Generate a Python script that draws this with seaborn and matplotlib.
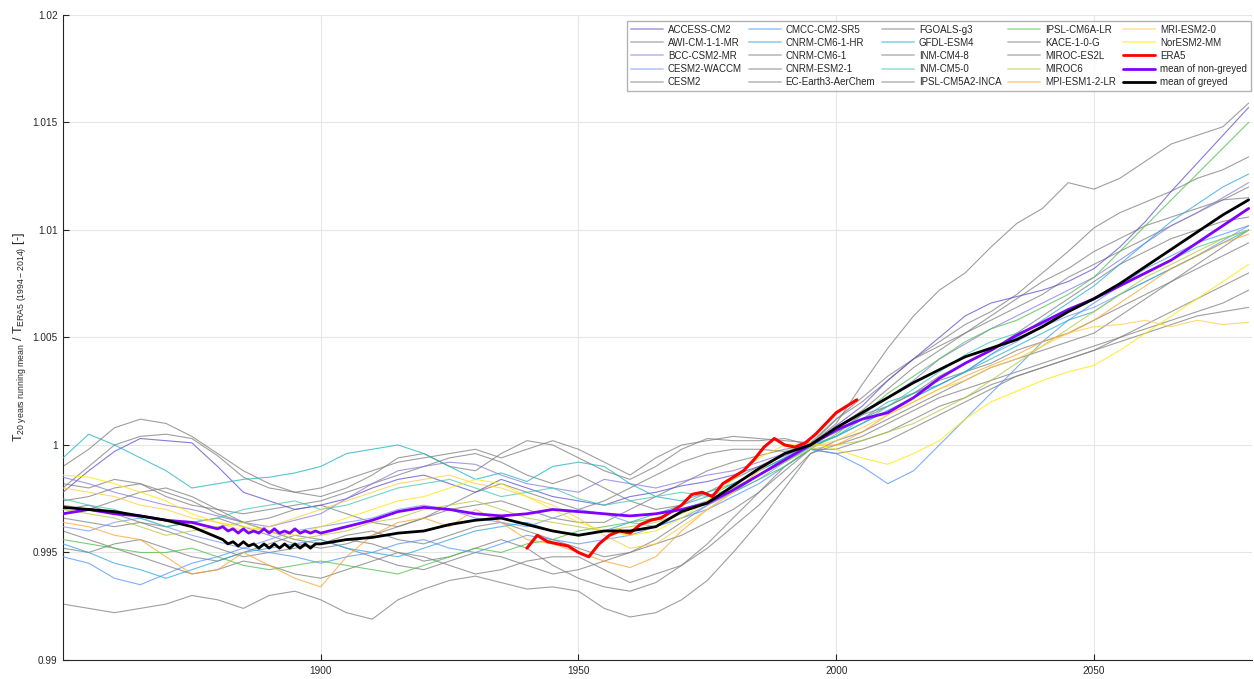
import numpy as np
import pandas as pd
import matplotlib
matplotlib.use("Agg")
import matplotlib.pyplot as plt
from matplotlib.lines import Line2D
import seaborn as sns

# years of the 20-year running means (5-year steps)
years = np.arange(1850, 2081, 5)
era5_years = np.arange(1940, 2005, 2)
# the two ensemble means are read yearly around 1880-1900 (zigzag part)
mean_years = np.concatenate([np.arange(1850, 1880, 5), np.arange(1880, 1900),
                             np.arange(1900, 2081, 5)])

# values in units of 1e-4 around 1.0  (-29 -> 0.9971)
access_cm2 = [-22, -12, -3, 3, 2, 1, -10, -22, -26, -30, -28,
              -25, -20, -16, -14, -18, -22, -16, -20, -24, -26,
              -28, -24, -22, -19, -17, -14, -10, -5, 0, 9,
              18, 30, 40, 50, 60, 66, 69, 72, 76, 82,
              92, 104, 118, 131, 144, 157]
awi_cm = [-10, -2, 8, 12, 10, 4, -4, -12, -18, -22, -24,
          -20, -14, -6, -4, -10, -12, -4, 2, 0, -6,
          -12, -16, -10, -2, 3, 2, 2, 3, 0, 10,
          28, 45, 60, 72, 80, 92, 103, 110, 122, 119,
          124, 132, 140, 144, 148, 159]
bcc_csm2 = [-15, -18, -22, -25, -28, -30, -33, -36, -38, -35, -32,
            -25, -18, -12, -10, -8, -9, -14, -18, -20, -22,
            -16, -18, -20, -17, -14, -12, -8, -4, 1, 6,
            14, 22, 30, 40, 47, 54, 60, 66, 72, 78,
            86, 94, 102, 108, 115, 122]
cesm2_waccm = [-38, -40, -36, -34, -38, -42, -45, -48, -44, -40, -38,
               -36, -34, -30, -28, -30, -34, -36, -38, -34, -30,
               -32, -36, -38, -34, -28, -22, -16, -8, -1, 4,
               10, 16, 22, 28, 34, 42, 48, 55, 60, 64,
               70, 76, 82, 88, 95, 102]
cesm2 = [-28, -30, -26, -22, -20, -24, -30, -36, -40, -44, -46,
         -42, -40, -44, -46, -42, -38, -36, -40, -44, -48,
         -52, -50, -44, -36, -28, -22, -14, -6, 0, 6,
         12, 18, 24, 30, 34, 38, 44, 48, 52, 58,
         64, 70, 76, 82, 88, 94]
cmcc = [-52, -55, -62, -65, -60, -55, -52, -48, -50, -52, -55,
        -52, -50, -46, -44, -48, -50, -46, -42, -44, -46,
        -44, -42, -38, -34, -30, -24, -18, -10, -2, -4,
        -10, -18, -12, 0, 12, 24, 36, 48, 58, 66,
        74, 82, 88, 94, 98, 102]
cnrm_hr = [-46, -50, -55, -58, -62, -58, -54, -50, -48, -46, -44,
           -48, -50, -52, -48, -44, -40, -38, -36, -40, -42,
           -40, -36, -32, -28, -24, -18, -12, -6, 0, 4,
           10, 16, 22, 28, 34, 42, 50, 58, 66, 74,
           84, 94, 104, 112, 120, 126]
cnrm_cm6 = [-74, -76, -78, -76, -74, -70, -72, -76, -70, -68, -72,
            -78, -81, -72, -67, -63, -61, -64, -67, -66, -68,
            -76, -80, -78, -72, -63, -50, -36, -20, -4, 0,
            4, 10, 16, 22, 26, 30, 34, 38, 42, 46,
            50, 54, 58, 62, 66, 72]
cnrm_esm2 = [-40, -44, -48, -52, -56, -60, -58, -54, -56, -60, -62,
             -58, -54, -50, -52, -56, -60, -58, -54, -52, -52,
             -58, -64, -60, -56, -48, -38, -28, -16, -4, 2,
             6, 12, 18, 24, 30, 36, 40, 44, 48, 52,
             60, 68, 76, 84, 92, 100]
ec_earth3 = [-20, -10, 0, 4, 5, 3, -5, -15, -20, -22, -20,
             -16, -12, -8, -6, -4, -2, -6, -2, 2, -2,
             -8, -14, -6, 0, 2, 4, 3, 2, 1, 12,
             20, 30, 40, 48, 56, 62, 70, 80, 90, 101,
             108, 113, 118, 124, 128, 134]
fgoals = [-30, -28, -32, -36, -38, -36, -34, -38, -42, -46, -48,
          -46, -42, -38, -34, -30, -28, -26, -30, -34, -36,
          -36, -30, -24, -18, -12, -8, -5, -2, 0, 8,
          16, 26, 36, 44, 52, 60, 68, 76, 82, 90,
          96, 102, 106, 110, 114, 115]
gfdl = [-6, 5, 0, -6, -12, -20, -18, -16, -15, -13, -10,
        -4, -2, 0, -4, -10, -16, -13, -17, -10, -8,
        -10, -18, -24, -26, -22, -18, -12, -6, -1, 4,
        12, 20, 24, 28, 34, 40, 46, 52, 58, 62,
        70, 76, 82, 88, 94, 100]
inm_cm48 = [-34, -36, -38, -36, -40, -44, -48, -52, -50, -48, -46,
            -44, -46, -50, -54, -52, -48, -44, -48, -56, -62,
            -66, -68, -64, -56, -46, -34, -22, -10, -2, -2,
            2, 6, 12, 18, 22, 28, 32, 36, 40, 44,
            50, 56, 62, 68, 74, 80]
inm_cm50 = [-25, -28, -30, -34, -38, -36, -34, -30, -28, -26, -30,
            -28, -24, -20, -18, -16, -20, -24, -22, -20, -25,
            -28, -26, -24, -22, -24, -20, -14, -8, -1, 4,
            10, 18, 26, 34, 42, 48, 52, 56, 62, 68,
            74, 80, 86, 92, 96, 100]
ipsl_cm5a2 = [-18, -20, -16, -18, -24, -28, -30, -32, -30, -28, -26,
              -22, -18, -14, -10, -6, -4, -8, -14, -18, -14,
              -20, -26, -30, -28, -22, -16, -10, -4, 1, 8,
              14, 18, 24, 32, 38, 44, 52, 60, 68, 76,
              84, 90, 96, 100, 104, 106]
ipsl_cm6a = [-44, -46, -48, -50, -50, -48, -52, -56, -58, -56, -54,
             -56, -58, -60, -56, -52, -48, -50, -46, -44, -40,
             -38, -36, -34, -30, -26, -22, -16, -10, -2, 5,
             14, 24, 32, 40, 48, 54, 58, 64, 70, 78,
             90, 102, 114, 126, 138, 150]
kace = [-26, -24, -20, -18, -22, -26, -32, -36, -34, -30, -28,
        -32, -36, -38, -34, -28, -22, -18, -22, -26, -30,
        -26, -20, -14, -8, -4, -2, -2, -3, 0, 12,
        22, 32, 40, 46, 52, 58, 64, 70, 78, 84,
        90, 96, 102, 108, 114, 120]
miroc_es2l = [-48, -50, -46, -44, -48, -52, -54, -50, -46, -42, -44,
              -48, -52, -56, -58, -54, -50, -52, -56, -60, -58,
              -54, -50, -46, -42, -36, -30, -22, -12, -2, -4,
              -2, 2, 8, 14, 20, 26, 32, 36, 40, 44,
              48, 52, 56, 60, 62, 64]
miroc6 = [-30, -32, -34, -38, -42, -40, -38, -36, -40, -44, -42,
          -40, -36, -34, -30, -28, -26, -30, -34, -36, -38,
          -40, -38, -36, -32, -26, -20, -14, -8, -2, 0,
          2, 6, 10, 16, 22, 30, 38, 46, 54, 62,
          70, 78, 84, 90, 96, 100]
mpi_esm = [-36, -38, -42, -44, -52, -60, -58, -50, -56, -62, -66,
           -52, -42, -36, -34, -38, -30, -36, -44, -46, -50,
           -54, -57, -52, -40, -30, -22, -12, -4, 0, 0,
           6, 14, 20, 26, 32, 37, 42, 48, 52, 58,
           66, 74, 82, 88, 94, 98]
mri_esm = [-20, -22, -24, -28, -30, -34, -36, -40, -38, -34, -30,
           -26, -22, -18, -16, -14, -18, -20, -24, -28, -34,
           -42, -48, -46, -38, -30, -22, -12, -4, -1, 2,
           8, 14, 20, 26, 30, 36, 40, 46, 52, 55,
           56, 58, 55, 58, 56, 57]
noresm = [-14, -15, -18, -22, -26, -32, -36, -38, -40, -42, -38,
          -34, -30, -26, -24, -20, -16, -18, -24, -30, -36,
          -40, -42, -40, -34, -26, -16, -6, 0, 1, -2,
          -6, -9, -4, 2, 12, 20, 25, 30, 34, 37,
          44, 52, 60, 68, 76, 84]
era5 = [-48, -42, -45, -46, -47, -50, -52, -46, -42, -40, -41, -37, -35,
        -34, -31, -28, -23, -22, -24, -18, -15, -12, -7, -1, 3, 0, -1, 1,
        5, 10, 15, 18, 21]
mean_nongrey = [-32, -30, -32, -33, -35, -36,
                -39, -38, -40, -39, -41, -39, -41, -40, -41, -39,
                -41, -39, -41, -40, -41, -39, -41, -40, -41, -40,
                -41, -38, -35, -31, -29, -30, -32, -33, -32, -30, -31,
                -32, -33, -32, -30, -27, -21, -14, -7, 0, 7,
                12, 15, 22, 31, 38, 44, 51, 57, 63, 68,
                74, 80, 86, 94, 102, 110]
mean_grey = [-29, -30, -31, -33, -35, -38,
             -43, -44, -46, -45, -47, -45, -47, -46, -48, -46,
             -48, -46, -48, -46, -48, -46, -48, -46, -48, -46,
             -46, -44, -43, -41, -40, -37, -35, -34, -37, -40, -42,
             -40, -40, -38, -31, -27, -19, -11, -4, 0, 8,
             15, 22, 29, 35, 41, 45, 49, 55, 62, 68,
             75, 83, 91, 99, 107, 114]

GREY = "#7f7f7f"
series = [
    ("ACCESS-CM2", access_cm2, "#5b4fd0"),
    ("AWI-CM-1-1-MR", awi_cm, GREY),
    ("BCC-CSM2-MR", bcc_csm2, "#8a78e0"),
    ("CESM2-WACCM", cesm2_waccm, "#7896ff"),
    ("CESM2", cesm2, GREY),
    ("CMCC-CM2-SR5", cmcc, "#4f95ff"),
    ("CNRM-CM6-1-HR", cnrm_hr, "#2ea6e0"),
    ("CNRM-CM6-1", cnrm_cm6, GREY),
    ("CNRM-ESM2-1", cnrm_esm2, GREY),
    ("EC-Earth3-AerChem", ec_earth3, GREY),
    ("FGOALS-g3", fgoals, GREY),
    ("GFDL-ESM4", gfdl, "#1fb3c0"),
    ("INM-CM4-8", inm_cm48, GREY),
    ("INM-CM5-0", inm_cm50, "#40c8b0"),
    ("IPSL-CM5A2-INCA", ipsl_cm5a2, GREY),
    ("IPSL-CM6A-LR", ipsl_cm6a, "#4cc04c"),
    ("KACE-1-0-G", kace, GREY),
    ("MIROC-ES2L", miroc_es2l, GREY),
    ("MIROC6", miroc6, "#b8c83c"),
    ("MPI-ESM1-2-LR", mpi_esm, "#ffa530"),
    ("MRI-ESM2-0", mri_esm, "#ffcc40"),
    ("NorESM2-MM", noresm, "#ffe800"),
]

sns.set_style("whitegrid")
plt.rcParams["font.family"] = ["Liberation Sans", "DejaVu Sans"]
plt.rcParams["mathtext.fontset"] = "custom"
plt.rcParams["mathtext.rm"] = "Liberation Sans"
plt.rcParams["mathtext.it"] = "Liberation Sans"

fig = plt.figure(figsize=(12.54, 6.79), dpi=100)
ax = fig.add_axes([0.0502, 0.028, 0.948, 0.950])

handles = []
for name, vals, col in series:
    df = pd.DataFrame({"year": years, "v": 1 + np.array(vals) / 1e4})
    z = 2 if col == GREY else 3
    sns.lineplot(data=df, x="year", y="v", ax=ax, color=col, lw=0.8,
                 alpha=0.75, zorder=z, legend=False)
    handles.append(Line2D([], [], color=col, lw=1.4, alpha=0.45, label=name))

df = pd.DataFrame({"year": era5_years, "v": 1 + np.array(era5) / 1e4})
sns.lineplot(data=df, x="year", y="v", ax=ax, color="#ff0000", lw=2.2,
             zorder=5, legend=False)
handles.append(Line2D([], [], color="#ff0000", lw=2.0, label="ERA5"))
df = pd.DataFrame({"year": mean_years, "v": 1 + np.array(mean_nongrey) / 1e4})
sns.lineplot(data=df, x="year", y="v", ax=ax, color="#8000ff", lw=2.0,
             zorder=6, legend=False)
handles.append(Line2D([], [], color="#8000ff", lw=2.0, label="mean of non-greyed"))
df = pd.DataFrame({"year": mean_years, "v": 1 + np.array(mean_grey) / 1e4})
sns.lineplot(data=df, x="year", y="v", ax=ax, color="black", lw=2.0,
             zorder=7, legend=False)
handles.append(Line2D([], [], color="black", lw=2.0, label="mean of greyed"))

ax.set_xlim(1850, 2080.6)
ax.set_ylim(0.99, 1.02)
ax.set_xticks([1900, 1950, 2000, 2050])
ax.set_yticks([0.99, 0.995, 1.0, 1.005, 1.01, 1.015, 1.02])
ax.set_yticklabels(["0.99", "0.995", "1", "1.005", "1.01", "1.015", "1.02"])
ax.set_xlabel("")
ax.set_ylabel(r"T$_{\mathrm{20\ years\ running\ mean}}$ / T$_{\mathrm{ERA5\ (1994-2014)}}$ [-]",
              fontsize=9, color="#262626", labelpad=3)
ax.grid(True, color="#e6e6e6", lw=0.8)
ax.tick_params(direction="in", length=4, labelsize=7.2, colors="#262626",
               left=True, bottom=True, pad=4)
for s in ["top", "right"]:
    ax.spines[s].set_visible(False)
for s in ["left", "bottom"]:
    ax.spines[s].set_color("#262626")
    ax.spines[s].set_linewidth(0.8)

leg = ax.legend(handles=handles, ncol=5, loc="upper right", fontsize=7,
                frameon=True, fancybox=False, edgecolor="#a0a0a0",
                handlelength=3.3, columnspacing=0.7, labelspacing=0.32,
                borderaxespad=0.6, handletextpad=0.5,
                bbox_to_anchor=(1.004, 1.0))
leg.get_frame().set_linewidth(1.0)
for t in leg.get_texts():
    t.set_color("#262626")

fig.savefig("out.png", dpi=100)
